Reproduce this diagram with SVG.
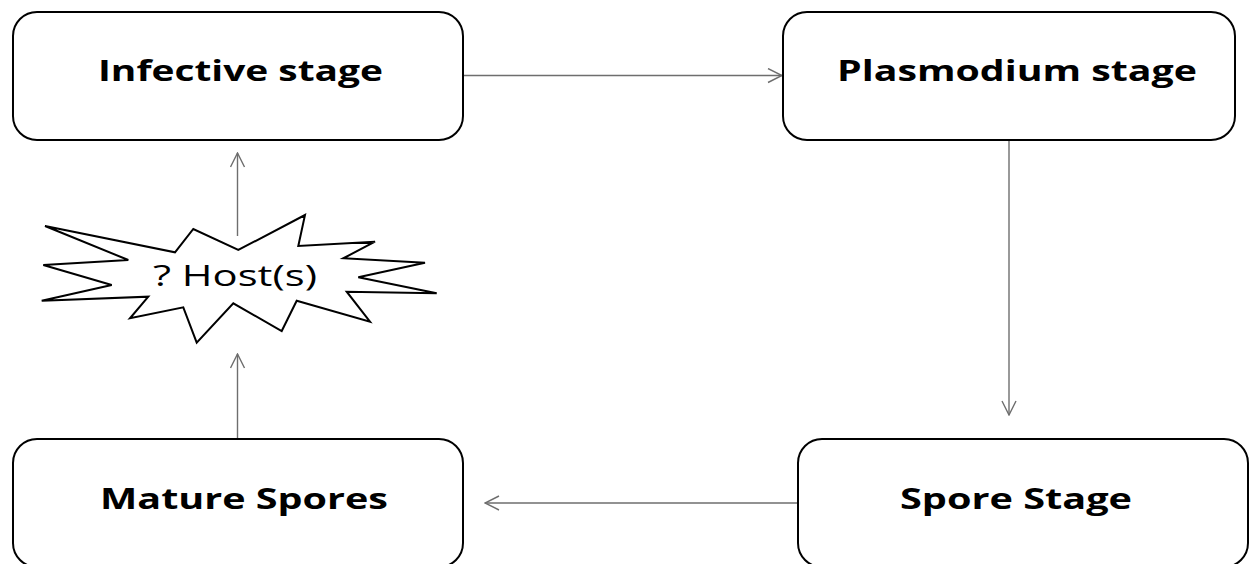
<svg xmlns="http://www.w3.org/2000/svg" width="1249" height="564" viewBox="0 0 1249 564">
<style>
.box{fill:#fff;stroke:#000;stroke-width:2}
.lbl{font-family:"Open Sans","Liberation Sans",sans-serif;font-weight:700;font-size:29px;fill:#000}
.conn{stroke:#6e6e6e;stroke-width:1.4;fill:none}
.star{fill:#fff;stroke:#000;stroke-width:2;stroke-linejoin:miter}
.stxt{font-family:"Open Sans","Liberation Sans",sans-serif;font-size:29px;fill:#000}
</style>
<defs>
<marker id="arr" viewBox="0 0 16 16" refX="15" refY="8" markerWidth="16" markerHeight="16" markerUnits="userSpaceOnUse" orient="auto">
<path d="M1,1 L15,8 L1,15" fill="none" stroke="#6e6e6e" stroke-width="1.4"/>
</marker>
</defs>
<rect width="1249" height="564" fill="#fff"/>
<g id="connectors">
<line class="conn" x1="463" y1="75.5" x2="782" y2="75.5" marker-end="url(#arr)"/>
<line class="conn" x1="1009" y1="140" x2="1009" y2="415" marker-end="url(#arr)"/>
<line class="conn" x1="798" y1="503" x2="485" y2="503" marker-end="url(#arr)"/>
<line class="conn" x1="237.5" y1="439" x2="237.5" y2="354" marker-end="url(#arr)"/>
<line class="conn" x1="237.5" y1="236" x2="237.5" y2="153" marker-end="url(#arr)"/>
</g>
<g id="node-infective">
<rect class="box" x="13" y="12" width="450" height="128" rx="24"/>
<text class="lbl" x="98" y="81" textLength="285" lengthAdjust="spacingAndGlyphs">Infective stage</text>
</g>
<g id="node-plasmodium">
<rect class="box" x="783" y="12" width="452" height="128" rx="24"/>
<text class="lbl" x="837" y="81" textLength="360" lengthAdjust="spacingAndGlyphs">Plasmodium stage</text>
</g>
<g id="node-spore-stage">
<rect class="box" x="798" y="439" width="450" height="128" rx="24"/>
<text class="lbl" x="900" y="509" textLength="232" lengthAdjust="spacingAndGlyphs">Spore Stage</text>
</g>
<g id="node-mature">
<rect class="box" x="13" y="439" width="450" height="128" rx="24"/>
<text class="lbl" x="100" y="509" textLength="288" lengthAdjust="spacingAndGlyphs">Mature Spores</text>
</g>
<g id="node-host">
<polygon class="star" points="45,226 175,252.3 193.3,229 238.3,250 305,215 298.3,246 375,241.7 343.3,258.3 425,262.7 358.3,277.3 436.7,293.3 346.7,291.7 370,321.7 296.7,300.7 281.7,331 233.3,303.3 196.7,342.7 183.3,307.3 130,318.3 148.3,296.7 41.7,300.7 111.7,285 43.3,265 128.3,260"/>
<text class="stxt" x="153" y="286" textLength="164" lengthAdjust="spacingAndGlyphs">? Host(s)</text>
</g>
</svg>
